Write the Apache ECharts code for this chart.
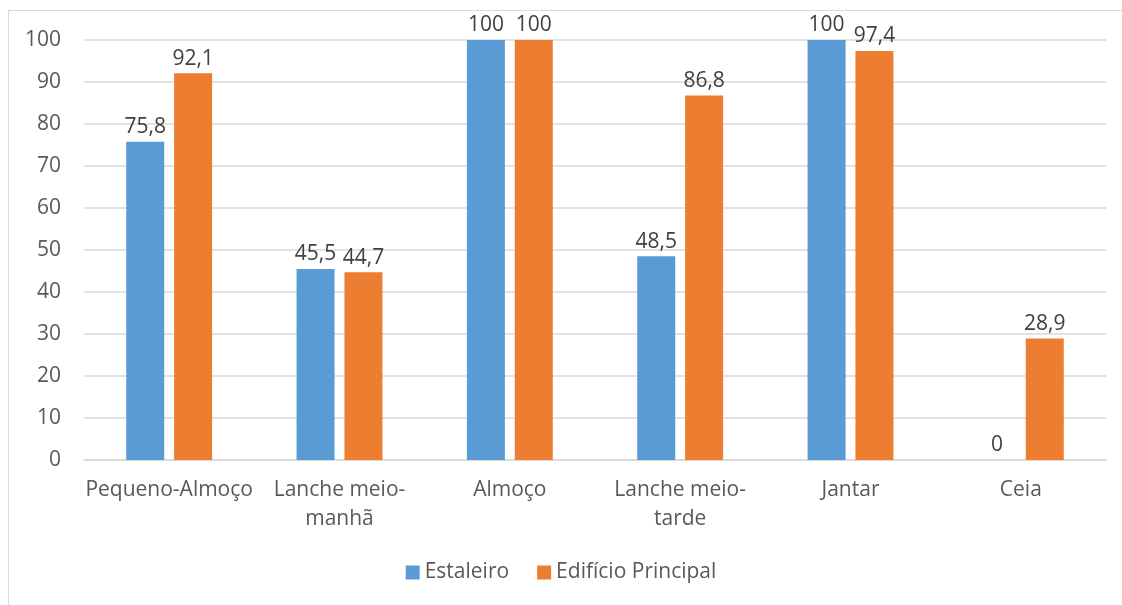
<!DOCTYPE html>
<html>
<head>
<meta charset="utf-8">
<script src="https://cdn.jsdelivr.net/npm/echarts@6/dist/echarts.min.js"></script>
<style>
  html, body { margin: 0; padding: 0; background: #fff; }
  #frame { position: absolute; left: 8px; top: 10px; width: 1120px; height: 600px; border: 1px solid #d9d9d9; box-sizing: border-box; }
  #chart { width: 1122px; height: 605px; }
</style>
</head>
<body>
<div id="frame"></div>
<div id="chart"></div>
<script>
// refeições
var categories = ['Pequeno-Almoço', 'Lanche meio-\nmanhã', 'Almoço', 'Lanche meio-\ntarde', 'Jantar', 'Ceia'];
var estaleiro = [75.8, 45.5, 100, 48.5, 100, 0];
var edificioPrincipal = [92.1, 44.7, 100, 86.8, 97.4, 28.9];
var seriesNames = ['Estaleiro', 'Edifício Principal'];

var fontFam = '"Open Sans", "Noto Sans", sans-serif';

var chart = echarts.init(document.getElementById('chart'));

function fmt(p) {
    return String(p.value).replace('.', ',');
}

var labelStyle = {
    show: true,
    position: 'top',
    distance: 4,
    color: '#404040',
    fontSize: 21,
    fontFamily: fontFam,
    formatter: fmt
};

var option = {
    animation: false,
    backgroundColor: 'transparent',
    grid: { left: 84, right: 16, top: 40, bottom: 145 },
    legend: {
        data: seriesNames,
        bottom: 17,
        left: 'center',
        itemWidth: 14,
        itemHeight: 14,
        itemGap: 28,
        icon: 'rect',
        textStyle: { color: '#595959', fontSize: 21, fontFamily: fontFam }
    },
    xAxis: {
        type: 'category',
        data: categories,
        axisLine: { lineStyle: { color: '#d9d9d9', width: 1.5 } },
        axisTick: { show: false },
        axisLabel: {
            color: '#595959',
            fontSize: 21,
            fontFamily: fontFam,
            margin: 16,
            lineHeight: 29,
            interval: 0
        }
    },
    yAxis: {
        type: 'value',
        min: 0,
        max: 100,
        interval: 10,
        axisLine: { show: false },
        axisTick: { show: false },
        splitLine: { lineStyle: { color: '#d9d9d9', width: 1.5 } },
        axisLabel: { color: '#595959', fontSize: 21, fontFamily: fontFam, margin: 23 }
    },
    series: [
        {
            name: seriesNames[0],
            type: 'bar',
            data: estaleiro,
            barWidth: 38,
            barGap: '26%',
            itemStyle: { color: '#5b9bd5' },
            label: labelStyle
        },
        {
            name: seriesNames[1],
            type: 'bar',
            data: edificioPrincipal,
            barWidth: 38,
            itemStyle: { color: '#ed7d31' },
            label: labelStyle
        }
    ]
};

chart.setOption(option);
</script>
</body>
</html>
